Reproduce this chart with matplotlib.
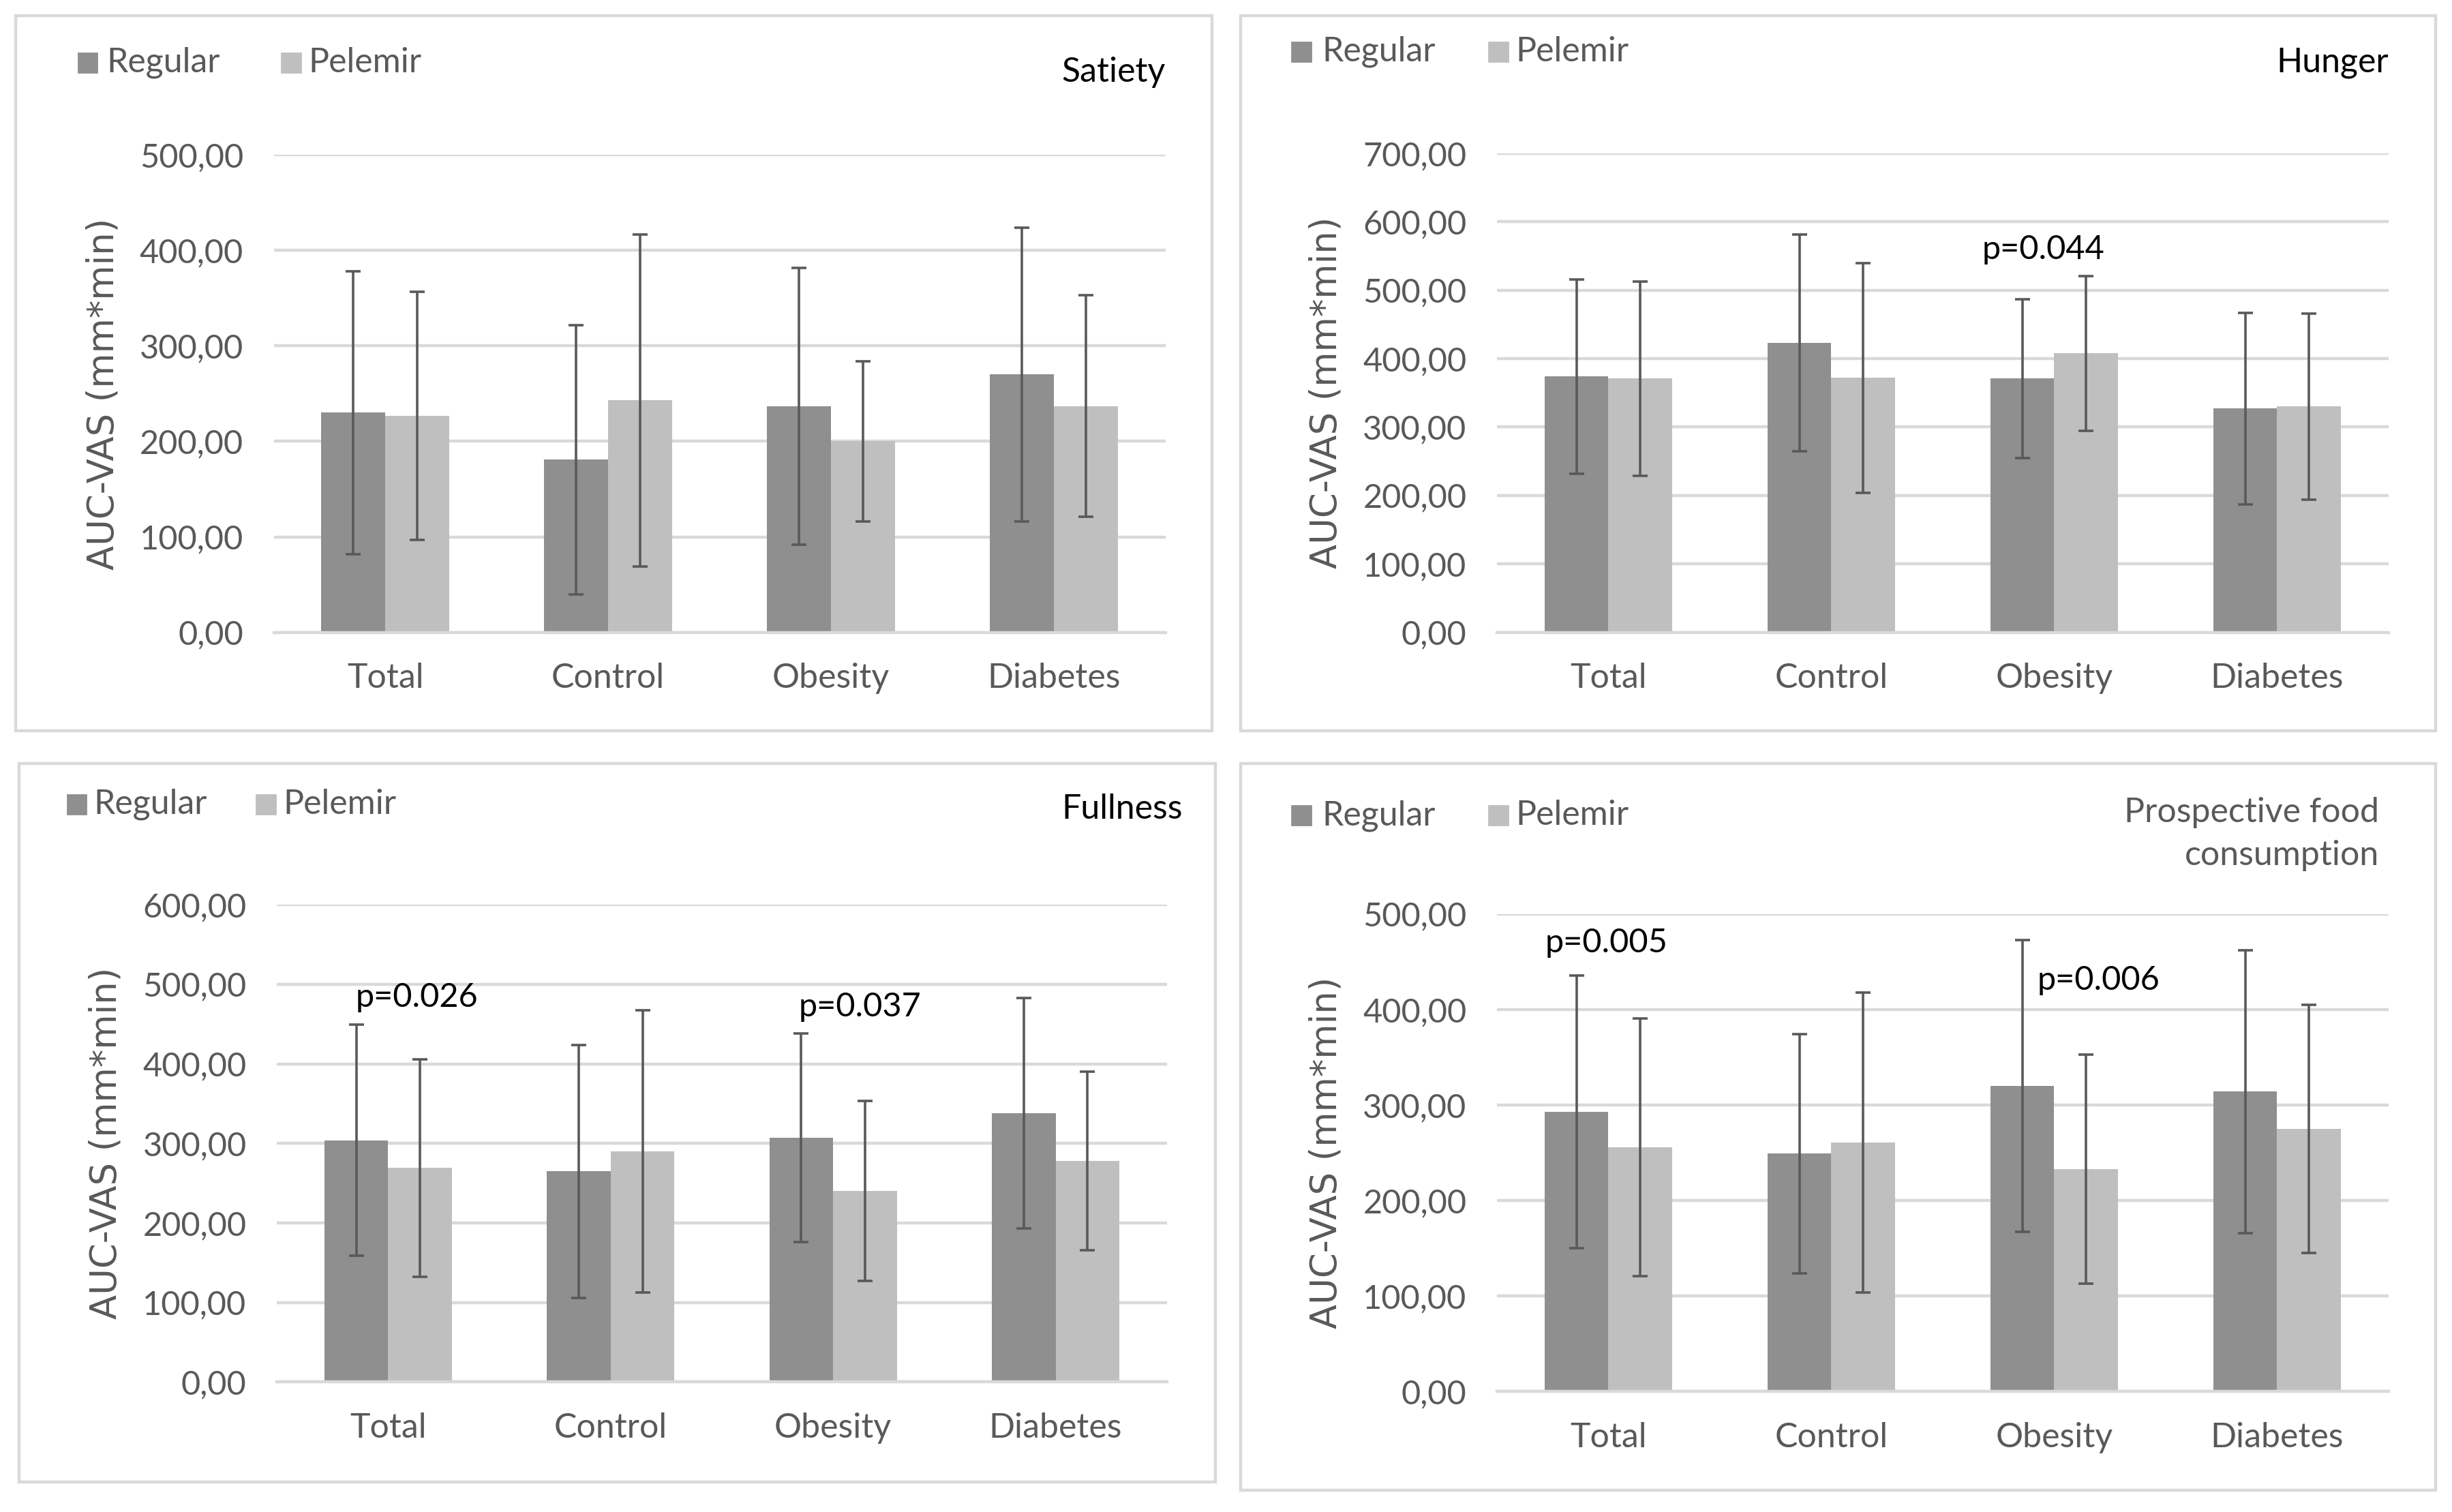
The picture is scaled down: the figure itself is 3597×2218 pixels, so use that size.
import matplotlib
matplotlib.use("Agg")
import matplotlib.pyplot as plt
from matplotlib.patches import Rectangle
import numpy as np

categories = ["Total", "Control", "Obesity", "Diabetes"]
series_names = ["Regular", "Pelemir"]

satiety_regular = [230, 181, 237, 270]
satiety_regular_sd = [148, 141, 145, 154]
satiety_pelemir = [227, 243, 200, 237]
satiety_pelemir_sd = [130, 174, 84, 116]

hunger_regular = [374, 423, 371, 327]
hunger_regular_sd = [142, 158, 116, 140]
hunger_pelemir = [371, 372, 408, 330]
hunger_pelemir_sd = [142, 168, 113, 136]

fullness_regular = [304, 265, 307, 338]
fullness_regular_sd = [145, 159, 131, 145]
fullness_pelemir = [269, 290, 240, 278]
fullness_pelemir_sd = [137, 177, 113, 112]

pfc_regular = [293, 249, 320, 314]
pfc_regular_sd = [143, 125, 153, 148]
pfc_pelemir = [256, 261, 233, 275]
pfc_pelemir_sd = [135, 157, 120, 130]

C_REG = "#8f8f8f"
C_PEL = "#bfbfbf"
C_ERR = "#595959"
C_GRID = "#d9d9d9"
C_TXT = "#595959"
FONT = "Lato"

W, H = 1568.0, 966.0
def fx(x): return x / W
def fy(y): return 1 - y / H

fig = plt.figure(figsize=(17.99, 11.09), dpi=200)

panels = [
    dict(title="Satiety", reg=satiety_regular, rsd=satiety_regular_sd, pel=satiety_pelemir, psd=satiety_pelemir_sd,
         ymax=500, box=(10, 10, 775, 467), ax=(175, 99, 745, 404), leg=(50, 68, 180, 197, 40),
         tpos=(745, 46), tcolor="black", pvals=[]),
    dict(title="Hunger", reg=hunger_regular, rsd=hunger_regular_sd, pel=hunger_pelemir, psd=hunger_pelemir_sd,
         ymax=700, box=(793, 10, 1557, 467), ax=(957, 98, 1527, 404), leg=(826, 845, 952, 969, 33),
         tpos=(1527, 40), tcolor="black", pvals=[("p=0.044", 1.95, 560)]),
    dict(title="Fullness", reg=fullness_regular, rsd=fullness_regular_sd, pel=fullness_pelemir, psd=fullness_pelemir_sd,
         ymax=600, box=(12, 488, 777, 947), ax=(177, 578, 746, 883), leg=(43, 60, 164, 181, 514),
         tpos=(756, 517), tcolor="black", pvals=[("p=0.026", 0.13, 484), ("p=0.037", 2.12, 472)]),
    dict(title="Prospective food\nconsumption", reg=pfc_regular, rsd=pfc_regular_sd, pel=pfc_pelemir, psd=pfc_pelemir_sd,
         ymax=500, box=(793, 488, 1557, 952), ax=(957, 584, 1527, 889), leg=(826, 845, 952, 969, 521),
         tpos=(1521, 533), tcolor=C_TXT, pvals=[("p=0.005", -0.01, 470), ("p=0.006", 2.20, 431)]),
]

x = np.arange(len(categories))
bw = 0.287

for p in panels:
    bx0, by0, bx1, by1 = p["box"]
    fig.patches.append(Rectangle((fx(bx0), fy(by1)), fx(bx1) - fx(bx0), fy(by0) - fy(by1),
                                 transform=fig.transFigure, fill=False, edgecolor=C_GRID, lw=1.6, zorder=0))
    ax0, ay0, ax1, ay1 = p["ax"]
    ax = fig.add_axes([fx(ax0), fy(ay1), fx(ax1) - fx(ax0), fy(ay0) - fy(ay1)])
    ax.bar(x - bw / 2, p["reg"], width=bw, color=C_REG, zorder=2)
    ax.bar(x + bw / 2, p["pel"], width=bw, color=C_PEL, zorder=2)
    ax.errorbar(x - bw / 2, p["reg"], yerr=p["rsd"], fmt="none", ecolor=C_ERR, elinewidth=1.3,
                capsize=4, capthick=1.3, zorder=3)
    ax.errorbar(x + bw / 2, p["pel"], yerr=p["psd"], fmt="none", ecolor=C_ERR, elinewidth=1.3,
                capsize=4, capthick=1.3, zorder=3)
    ax.set_xlim(-0.5, len(categories) - 0.5)
    ax.set_ylim(0, p["ymax"])
    ticks = np.arange(0, p["ymax"] + 1, 100)
    ax.set_yticks(ticks)
    ax.set_yticklabels([f"{t:.2f}".replace(".", ",") for t in ticks], fontfamily=FONT, fontsize=17.5, color=C_TXT)
    ax.set_xticks(x)
    ax.set_xticklabels(categories, fontfamily=FONT, fontsize=18, color=C_TXT)
    ax.tick_params(axis="both", length=0)
    ax.tick_params(axis="y", pad=16)
    ax.tick_params(axis="x", pad=16)
    ax.grid(axis="y", color=C_GRID, lw=1.6, zorder=0)
    ax.set_axisbelow(True)
    for s in ["top", "right", "left"]:
        ax.spines[s].set_visible(False)
    ax.spines["bottom"].set_color(C_GRID)
    ax.spines["bottom"].set_linewidth(1.6)
    ax.set_ylabel("AUC-VAS (mm*min)", fontfamily="DejaVu Sans", fontsize=19, color=C_TXT, labelpad=10)
    for txt, px, py in p["pvals"]:
        ax.text(px, py, txt, ha="center", va="center", fontfamily=FONT, fontsize=17.5, color="black")
    # legend
    s1, t1, s2, t2, ly = p["leg"]
    sq = 12
    for sx, tx, col, name in [(s1, t1, C_REG, series_names[0]), (s2, t2, C_PEL, series_names[1])]:
        fig.patches.append(Rectangle((fx(sx), fy(ly + sq / 2)), fx(sq), sq / H,
                                     transform=fig.transFigure, color=col))
        fig.text(fx(tx), fy(ly), name, ha="left", va="center", fontfamily=FONT, fontsize=18, color=C_TXT)
    tx, ty = p["tpos"]
    fig.text(fx(tx), fy(ty), p["title"], ha="right", va="center", fontfamily=FONT, fontsize=18,
             color=p["tcolor"], linespacing=1.45)

fig.savefig("out.png", dpi=200, facecolor="white")
